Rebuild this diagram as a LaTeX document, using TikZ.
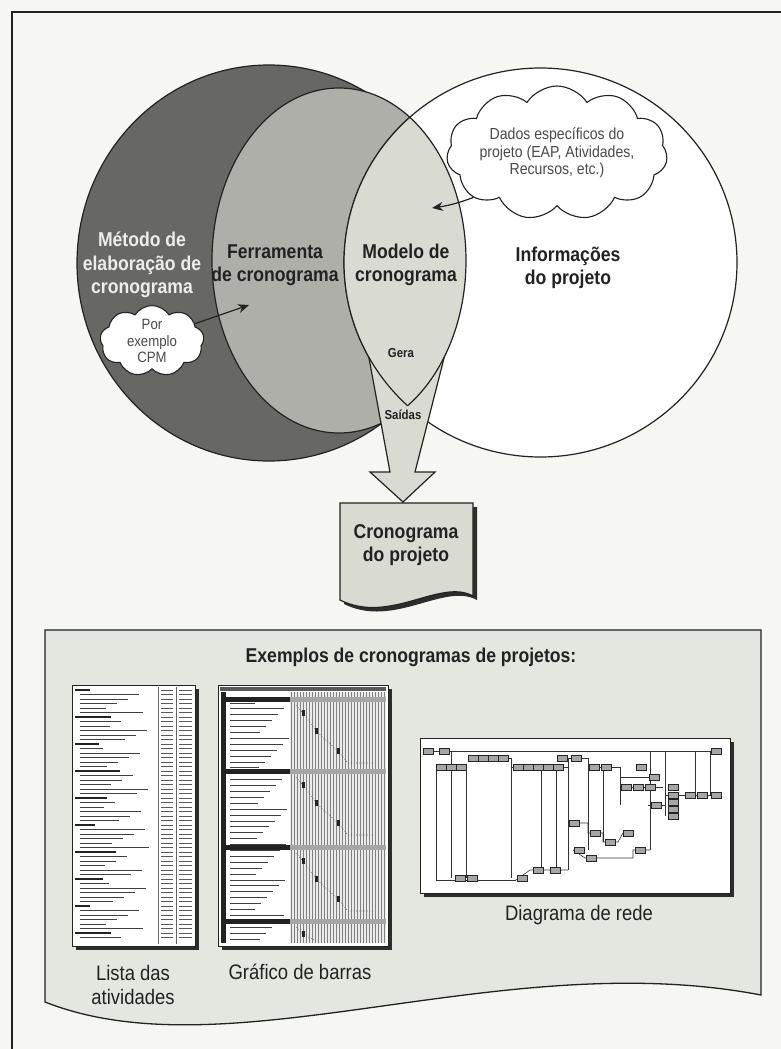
\documentclass[tikz,border=0pt]{standalone}
\usepackage{fontspec}
\setmainfont[FakeStretch=0.88]{Liberation Sans}
\usetikzlibrary{shapes.symbols,arrows.meta}
\definecolor{pagebg}{HTML}{F6F6F3}
\definecolor{darkring}{HTML}{676864}
\definecolor{midring}{HTML}{AEAFA8}
\definecolor{lightfill}{HTML}{D9DBD3}
\definecolor{panelfill}{HTML}{E4E7DF}
\definecolor{ink}{HTML}{222222}
\definecolor{cloudtxt}{HTML}{4A4A4A}
\definecolor{methodtxt}{HTML}{EDEDED}
\newcommand\netbox[2]{\filldraw[fill=black!35,draw=black!85,line width=0.4pt] (#1-5,#2-2.8) rectangle (#1+5,#2+2.8);}
\begin{document}
\begin{tikzpicture}[x=1pt,y=-1pt,
  outline/.style={draw=ink,line width=1.2pt},
  bigtxt/.style={font=\fontsize{20}{23.5}\selectfont\bfseries,text=ink,align=center,inner sep=0pt},
  smalltxt/.style={font=\fontsize{13}{15}\selectfont\bfseries,text=ink,inner sep=0pt},
  labeltxt/.style={font=\fontsize{21}{24}\selectfont,text=ink,align=center,inner sep=0pt},
  cloudbox/.style={cloud,cloud puffs=11,cloud puff arc=115,cloud ignores aspect,draw=ink,line width=1.1pt,fill=white,text=cloudtxt,align=center,inner sep=0pt},
  arr/.style={draw=ink,line width=1.2pt,-{Stealth[length=11pt,width=9pt]}},
  thumb/.style={fill=white,draw=ink,line width=0.8pt},
  shadowfill/.style={fill=ink!95}]
\useasboundingbox (0,0) rectangle (781,1049);
\fill[pagebg] (0,0) rectangle (781,1049);
\draw[ink,line width=1.8pt] (12,1049) -- (12,12) -- (781,12);

% ellipses
\filldraw[fill=darkring,outline] (269,263) ellipse [x radius=192, y radius=198];
\filldraw[fill=midring,outline] (339,260.5) ellipse [x radius=127, y radius=172.5];
\filldraw[fill=white,outline] (540.5,262.5) ellipse [x radius=196.5, y radius=194.5];
\begin{scope}
  \clip (339,260.5) ellipse [x radius=127, y radius=172.5];
  \fill[lightfill] (540.5,262.5) ellipse [x radius=196.5, y radius=194.5];
\end{scope}

% big arrow
\fill[lightfill] (368.8,357) -- (390,472) -- (370,472) -- (403,502) -- (435,472) -- (415,472) -- (444.3,357) -- cycle;
\draw[outline,line join=miter] (368.8,357) -- (390,472) -- (370,472) -- (403,502) -- (435,472) -- (415,472) -- (444.3,357);
\begin{scope}
  \clip (540.5,262.5) ellipse [x radius=196.5, y radius=194.5];
  \draw[outline] (339,260.5) ellipse [x radius=127, y radius=172.5];
\end{scope}
\begin{scope}
  \clip (339,260.5) ellipse [x radius=127, y radius=172.5];
  \draw[outline] (540.5,262.5) ellipse [x radius=196.5, y radius=194.5];
\end{scope}

% texts in the ellipses
\node[bigtxt,text=methodtxt] (metodo) at (142,265) {Método de\\elaboração de\\cronograma};
\node[bigtxt] (ferramenta) at (275,265) {Ferramenta\\de cronograma};
\node[bigtxt] (modelo) at (406,265) {Modelo de\\cronograma};
\node[bigtxt] (info) at (568,268) {Informações\\do projeto};
\node[smalltxt] (gera) at (401,353) {Gera};
\node[smalltxt] (saidas) at (403,415) {Saídas};

% clouds
\node[cloudbox,minimum width=192pt,minimum height=134pt,font=\fontsize{16}{17.5}\selectfont] (dados) at (557,153) {Dados específicos do\\projeto (EAP, Atividades,\\Recursos, etc.)};
\coordinate (dadosEnd) at (432,208);
\draw[arr] (dados.208) to[bend left=6] (dadosEnd);
\node[cloudbox,cloud puffs=9,minimum width=104pt,minimum height=64pt,font=\fontsize{15}{16.5}\selectfont] (por) at (152,341) {Por\\exemplo\\CPM};
\coordinate (porEnd) at (249,305);
\draw[arr] (por.22) -- (porEnd);

% document
\begin{scope}[shift={(4,4)}]
  \fill[shadowfill] (340,503) -- (473,503) -- (473,596) .. controls (440,578) and (390,625) .. (340,600) -- cycle;
\end{scope}
\filldraw[fill=lightfill,outline] (340,503) -- (473,503) -- (473,596) .. controls (440,578) and (390,625) .. (340,600) -- cycle;
\node[bigtxt] (doc) at (406,545) {Cronograma\\do projeto};

% bottom panel
\filldraw[fill=panelfill,outline,line width=1.3pt] (45,630) -- (761,630) -- (761,995) .. controls (500,945) and (230,1075) .. (45,1002) -- cycle;
\node[bigtxt] (title) at (411,657) {Exemplos de cronogramas de projetos:};

% list thumbnail
\fill[shadowfill] (76,689) rectangle (199,950);
\filldraw[thumb] (72,685) rectangle (195,946);
\draw[black!60,line width=0.5pt] (158,687) -- (158,944) (176,687) -- (176,944);
\foreach \i in {0,...,55}{
  \pgfmathsetmacro\yy{690+4.5*\i}
  \pgfmathtruncatemacro\hd{(mod(\i,6)==0)}
  \pgfmathsetmacro\ll{22+mod(\i*37,48)}
  \ifnum\hd=1
    \draw[ink,line width=1.6pt] (75,\yy) -- ++(\ll*0.7,0);
  \else
    \draw[black!75,line width=1pt] (80,\yy) -- ++(\ll,0);
  \fi
  \draw[black!65,line width=1pt] (161,\yy) -- ++(12,0);
  \draw[black!65,line width=1pt] (179,\yy) -- ++(13,0);
}

% bar chart thumbnail
\fill[shadowfill] (222,689) rectangle (392,950);
\filldraw[thumb] (218,685) rectangle (388,946);
\fill[black!8] (290,692) rectangle (386,943);
\fill[black!65] (220,687) rectangle (386,691);
\fill[ink] (221,692) rectangle (226,943);
\foreach \k in {0,...,31}{
  \draw[black!50,line width=0.5pt] ({291+3*\k},692) -- ++(0,251);
}
\foreach \i in {0,...,40}{
  \pgfmathsetmacro\yy{703+5.9*\i}
  \pgfmathsetmacro\ll{25+mod(\i*29,35)}
  \draw[black!75,line width=1pt] (230,\yy) -- ++(\ll,0);
}
\foreach \b in {697,769,845,919}{
  \fill[ink] (226,\b) rectangle (290,\b+5);
  \fill[black!35] (290,\b) rectangle (386,\b+5);
}
\foreach \s in {697,769,845}{
  \draw[black!65,dotted,line width=0.7pt] (296,\s+8) -- (303,\s+16) -- (316,\s+34) -- (338,\s+54) -- (348,\s+66) -- (375,\s+66);
  \foreach \mx/\my in {303/16,316/34,338/54}{
    \fill[ink] (\mx-1.5,\s+\my-3) rectangle (\mx+1.5,\s+\my+3);
  }
}
\draw[black!65,dotted,line width=0.7pt] (296,927) -- (303,934) -- (316,941);
\fill[ink] (301.5,931) rectangle (304.5,937);

% network thumbnail
\fill[shadowfill] (424,742) rectangle (734,897);
\filldraw[thumb] (420,738) rectangle (730,893);
\begin{scope}[black!80,line width=0.6pt]
  \draw (433,751) -- (710,751);
  \draw (436,767) -- (436,880) -- (516,880);
  \draw (451,751) -- (451,878);
  \draw (466,767) -- (466,878);
  \draw (468,758) -- (511,758) -- (511,878);
  \draw (511,767) -- (568,767);
  \draw (541,767) -- (541,870);
  \draw (556,767) -- (556,870);
  \draw (568,758) -- (568,870);
  \draw (516,880) -- (530,870) -- (568,870);
  \draw (568,758) -- (588,758);
  \draw (588,758) -- (588,850);
  \draw (588,767) -- (620,767);
  \draw (603,767) -- (603,842);
  \draw (620,767) -- (620,805);
  \draw (620,787) -- (663,787);
  \draw (620,777) -- (660,777);
  \draw (650,751) -- (650,850);
  \draw (648,805) -- (665,805);
  \draw (665,751) -- (665,816);
  \draw (665,795) -- (722,795);
  \draw (695,751) -- (695,795);
  \draw (710,751) -- (710,795);
  \draw (573,823) -- (588,823) -- (588,833) -- (603,833) -- (603,842) -- (618,842) -- (623,833) -- (633,833);
  \draw (573,850) -- (585,858) -- (633,858) -- (633,850) -- (650,850);
\end{scope}
\foreach \mx/\my in {428/751,444/751,716/751,473/758,483/758,493/758,503/758,562/758,576/758,
  441/767,451/767,461/767,518/767,528/767,538/767,548/767,558/767,594/767,606/767,641/767,
  654/777,626/787,638/787,650/787,673/787,656/805,673/795,673/802,673/809,673/816,
  690/795,702/795,716/795,574/823,595/833,610/842,628/833,579/850,591/858,640/850,
  555/870,460/878,472/878,522/878,538/870}{
  \netbox{\mx}{\my}
}

% labels
\node[labeltxt] (lista) at (133,985) {Lista das\\atividades};
\node[labeltxt] (grafico) at (300,972) {Gráfico de barras};
\node[labeltxt] (rede) at (579,915) {Diagrama de rede};
\end{tikzpicture}
\end{document}
